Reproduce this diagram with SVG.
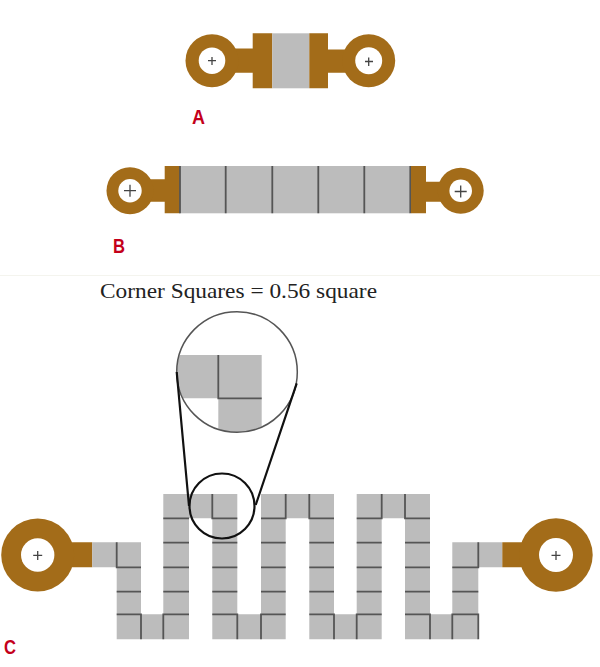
<svg xmlns="http://www.w3.org/2000/svg" width="600" height="667" viewBox="0 0 600 667">
<style>
.cu{fill:#a36c19}
.hole{fill:#fff}
.sq{fill:#bcbcbc}
.plus{stroke:#444;stroke-width:1.3;fill:none}
.div{stroke:#555;stroke-width:1.8;fill:none}
.lead{stroke:#111;stroke-width:2.2;fill:none}
.lab{font-family:"Liberation Sans",Arial,sans-serif;font-weight:700;font-size:21px;fill:#c4001a}
</style>
<defs>
<clipPath id="lens"><circle cx="237" cy="372" r="60"/></clipPath>
</defs>
<rect width="600" height="667" fill="#fff"/>
<path d="M0 275.5H600" stroke="#f4f4ee" stroke-width="1"/>

<g id="resistor-a">
<path class="cu" d="M252.7 48.5H232V72.7H252.7V88.3H272.3V33.3H252.7Z"/>
<circle class="cu" cx="212" cy="60.7" r="26.5"/>
<circle class="hole" cx="212" cy="60.7" r="13.3"/>
<path class="plus" d="M208 60.7H216M212 57V65"/>
<rect class="sq" x="272.3" y="33.3" width="37" height="55"/>
<path class="cu" d="M309.3 33.3H328V49.5H350V72.7H328V88.3H309.3Z"/>
<circle class="cu" cx="368.7" cy="60.7" r="26.5"/>
<circle class="hole" cx="368.7" cy="60.7" r="13.5"/>
<path class="plus" d="M365 61.5H373M368.7 57.5V66"/>
<text class="lab" x="192" y="124.3" textLength="13" lengthAdjust="spacingAndGlyphs">A</text>
</g>

<g id="resistor-b">
<path class="cu" d="M164.7 179.3H145V201.7H164.7V213.3H180V166H164.7Z"/>
<circle class="cu" cx="130" cy="190.7" r="23.5"/>
<circle class="hole" cx="130" cy="190.7" r="11.7"/>
<path class="plus" d="M124 190.7H136M130 184.7V196.7"/>
<rect class="sq" x="180" y="166" width="230.3" height="47.3"/>
<path class="div" d="M180 166V213.3M225.7 166V213.3M272.3 166V213.3M318.3 166V213.3M364.3 166V213.3M410.3 166V213.3"/>
<path class="cu" d="M411 166H426V181.7H445V201.7H426V213.3H411Z"/>
<circle class="cu" cx="460.7" cy="190.7" r="23"/>
<circle class="hole" cx="460.7" cy="190.7" r="11.3"/>
<path class="plus" d="M454.7 191.5H466.7M460.7 185.5V197.5"/>
<text class="lab" x="113" y="252.7" textLength="12" lengthAdjust="spacingAndGlyphs">B</text>
</g>

<g id="resistor-c">
<path class="cu" d="M50 542.3H92.3V567.3H50Z"/>
<circle class="cu" cx="37.7" cy="555" r="36.5"/>
<circle class="hole" cx="37.7" cy="555" r="16.7"/>
<path class="plus" d="M33.2 555.3H42.2M37.7 551V560"/>
<path class="sq" d="M92.3 542.3H141V614.3H163.3V494H237.3V614.3H261V494H334V614.3H356.7V494H430V614.3H452.3V542.3H502.3V567.3H478.3V639.3H405V518.3H381.7V639.3H309.3V518.3H285.7V639.3H212.3V518.3H189V639.3H116.7V567.3H92.3Z"/>
<path class="div" d="M116.7 542.3V567.3H141M116.7 591.7H141M116.7 614.3H141V639.3M163.3 639.3V614.3H189M163.3 591.7H189M163.3 567.3H189M163.3 542.7H189M163.3 518.3H189"/>
<path class="div" d="M212.3 494V518.3H237.3M212.3 542.7H237.3M212.3 567.3H237.3M212.3 591.7H237.3M212.3 614.3H237.3V639.3M261 639.3V614.3H285.7M261 591.7H285.7M261 567.3H285.7M261 542.7H285.7M261 518.3H285.7V494"/>
<path class="div" d="M309.3 494V518.3H334M309.3 542.7H334M309.3 567.3H334M309.3 591.7H334M309.3 614.3H334V639.3M356.7 639.3V614.3H381.7M356.7 591.7H381.7M356.7 567.3H381.7M356.7 542.7H381.7M356.7 518.3H381.7V494"/>
<path class="div" d="M405 494V518.3H430M405 542.7H430M405 567.3H430M405 591.7H430M405 614.3H430V639.3M452.3 639.3V614.3H478.3V639.3M452.3 591.7H478.3M452.3 567.3H478.3V542.3"/>
<path class="cu" d="M502.3 542.3H540V567.3H502.3Z"/>
<circle class="cu" cx="556" cy="555" r="36.7"/>
<circle class="hole" cx="556" cy="555" r="17"/>
<path class="plus" d="M551.5 555.3H560.5M556 551V560"/>
<text class="lab" x="4" y="654" textLength="12" lengthAdjust="spacingAndGlyphs">C</text>
</g>

<g id="corner-detail">
<text x="100" y="297.7" font-family="'Liberation Serif','Times New Roman',serif" font-size="22" fill="#222" textLength="277" lengthAdjust="spacingAndGlyphs">Corner Squares = 0.56 square</text>
<g clip-path="url(#lens)">
<path class="sq" d="M177 355H261.7V435H218.3V398.3H177Z"/>
<path class="div" d="M218.3 355V398.3H261.7"/>
</g>
<circle cx="237" cy="372" r="60.3" fill="none" stroke="#555" stroke-width="1.5"/>
<circle class="lead" cx="222" cy="506" r="32.5"/>
<path class="lead" d="M176.7 372L189 506M296.7 383.3L255.7 505"/>
</g>
</svg>
